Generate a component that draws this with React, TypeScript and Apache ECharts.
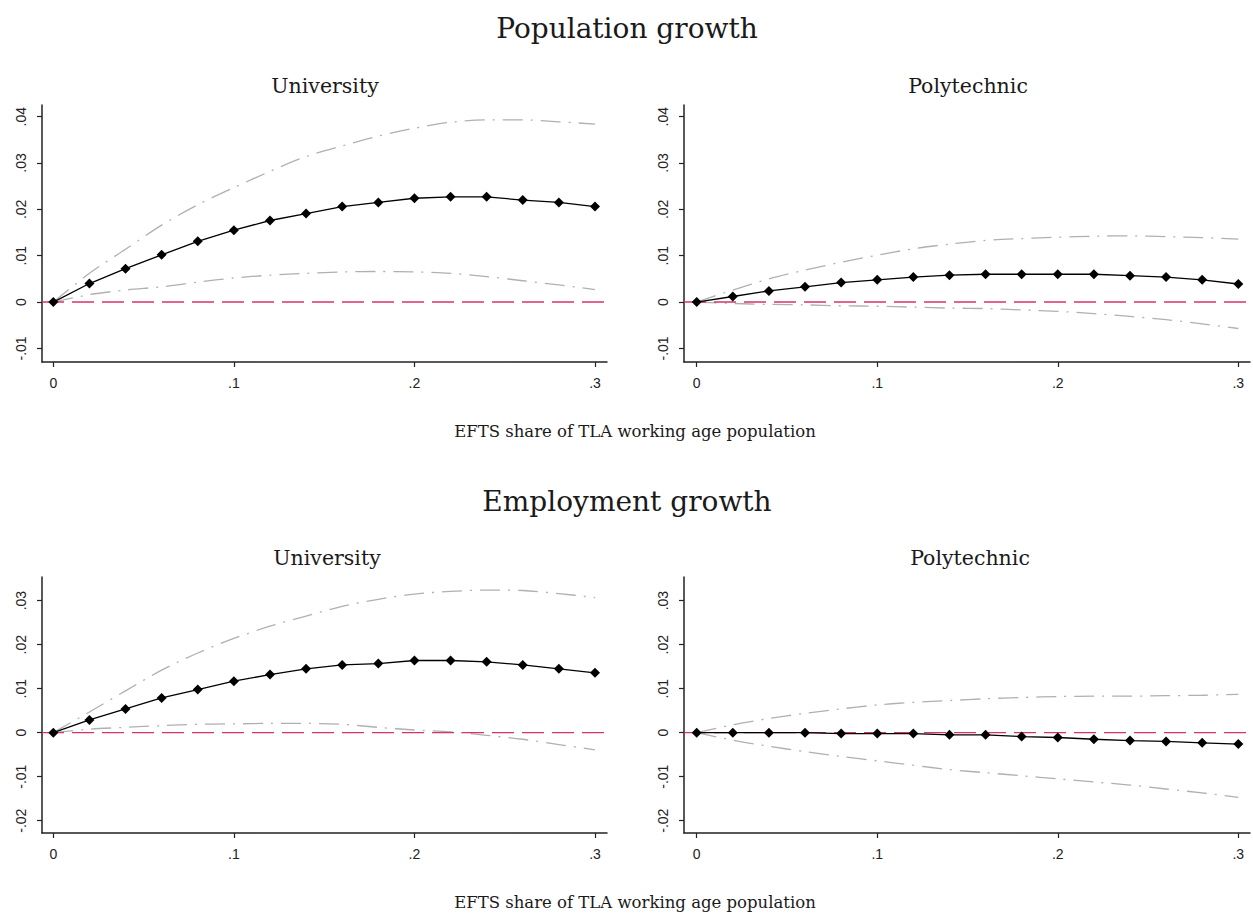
import React, { useEffect, useRef } from 'react';
import * as echarts from 'echarts';

// EFTS share of TLA working age population (x values)
const xs = [0, 0.02, 0.04, 0.06, 0.08, 0.1, 0.12, 0.14, 0.16, 0.18, 0.2, 0.22, 0.24, 0.26, 0.28, 0.3];
const xTickValues = [0, 0.1, 0.2, 0.3];
const yTicksTop = [-0.01, 0, 0.01, 0.02, 0.03, 0.04];
const yTicksBottom = [-0.02, -0.01, 0, 0.01, 0.02, 0.03];

// Population growth – University
const popUni = [0, 0.004, 0.0072, 0.0102, 0.0131, 0.0155, 0.0176, 0.0191, 0.0206, 0.0215, 0.0224, 0.0227, 0.0227, 0.022, 0.0215, 0.0206];
const popUniHi = [0, 0.0062, 0.0114, 0.0166, 0.021, 0.0247, 0.0282, 0.0314, 0.0337, 0.0358, 0.0375, 0.0388, 0.0393, 0.0393, 0.0389, 0.0384];
const popUniLo = [0, 0.0016, 0.0026, 0.0033, 0.0043, 0.0052, 0.0058, 0.0062, 0.0065, 0.0066, 0.0065, 0.0062, 0.0055, 0.0046, 0.0037, 0.0027];

// Population growth – Polytechnic
const popPoly = [0, 0.0012, 0.0024, 0.0033, 0.0042, 0.0048, 0.0054, 0.0058, 0.006, 0.006, 0.006, 0.006, 0.0057, 0.0054, 0.0048, 0.0039];
const popPolyHi = [0, 0.0026, 0.005, 0.0069, 0.0086, 0.0101, 0.0115, 0.0125, 0.0133, 0.0137, 0.014, 0.0142, 0.0143, 0.0141, 0.0139, 0.0136];
const popPolyLo = [0, -0.0003, -0.0005, -0.0006, -0.0008, -0.0009, -0.0011, -0.0013, -0.0014, -0.0017, -0.002, -0.0025, -0.0031, -0.0038, -0.0047, -0.0057];

// Employment growth – University
const empUni = [0, 0.0029, 0.0054, 0.0079, 0.0098, 0.0117, 0.0132, 0.0145, 0.0154, 0.0157, 0.0164, 0.0164, 0.0161, 0.0154, 0.0145, 0.0136];
const empUniHi = [0, 0.0047, 0.0095, 0.0142, 0.0181, 0.0214, 0.0242, 0.0265, 0.0287, 0.0303, 0.0315, 0.0321, 0.0324, 0.0323, 0.0316, 0.0307];
const empUniLo = [0, 0.0008, 0.0012, 0.0016, 0.0019, 0.002, 0.0021, 0.0021, 0.0019, 0.0012, 0.0006, 0.0002, -0.0006, -0.0015, -0.0027, -0.0039];

// Employment growth – Polytechnic
const empPoly = [0, 0, 0, 0, -0.0002, -0.0002, -0.0002, -0.0005, -0.0005, -0.0009, -0.0011, -0.0015, -0.0018, -0.002, -0.0023, -0.0026];
const empPolyHi = [0, 0.0018, 0.0032, 0.0044, 0.0054, 0.0063, 0.0069, 0.0073, 0.0077, 0.008, 0.0082, 0.0083, 0.0083, 0.0084, 0.0085, 0.0087];
const empPolyLo = [0, -0.0017, -0.0031, -0.0043, -0.0054, -0.0064, -0.0074, -0.0084, -0.0091, -0.0098, -0.0105, -0.0112, -0.0119, -0.0128, -0.0137, -0.0147];

const mainTitles = ['Population growth', 'Employment growth'];
const subTitles = ['University', 'Polytechnic'];
const xTitle = 'EFTS share of TLA working age population';

const SERIF = 'DejaVu Serif';
const SANS = 'Liberation Sans';

const fmt = (v: number) => {
  if (Math.abs(v) < 1e-9) return '0';
  const s = parseFloat(v.toFixed(3)).toString();
  return s.replace(/^(-?)0\./, '$1.');
};

const toPairs = (ys: number[]) => xs.map((x, i) => [x, ys[i]]);

export default function App() {
  const ref = useRef<HTMLDivElement>(null);

  useEffect(() => {
    if (!ref.current) return;
    const chart = echarts.init(ref.current, null, { renderer: 'svg' });

    const panels = [
      { grid: { left: 42, top: 105, width: 565, height: 257 }, xMin: -0.00626, xMax: 0.30665, yMin: -0.01293, yMax: 0.04252, yTicks: yTicksTop, est: popUni, hi: popUniHi, lo: popUniLo },
      { grid: { left: 684, top: 105, width: 566, height: 257 }, xMin: -0.00703, xMax: 0.30648, yMin: -0.01293, yMax: 0.04252, yTicks: yTicksTop, est: popPoly, hi: popPolyHi, lo: popPolyLo },
      { grid: { left: 42, top: 577, width: 565, height: 256 }, xMin: -0.00626, xMax: 0.30665, yMin: -0.0228, yMax: 0.03537, yTicks: yTicksBottom, est: empUni, hi: empUniHi, lo: empUniLo },
      { grid: { left: 684, top: 577, width: 566, height: 256 }, xMin: -0.00703, xMax: 0.30648, yMin: -0.0228, yMax: 0.03537, yTicks: yTicksBottom, est: empPoly, hi: empPolyHi, lo: empPolyLo },
    ];

    const axisLine = { show: true, onZero: false, lineStyle: { color: '#222', width: 1.5 } };
    const axisTickStyle = { lineStyle: { color: '#222', width: 1.2 }, length: 5 };

    const grids = panels.map((p) => ({ ...p.grid, containLabel: false }));
    const xAxes = panels.map((p, i) => ({
      type: 'value',
      gridIndex: i,
      min: p.xMin,
      max: p.xMax,
      axisLine,
      axisTick: { show: true, customValues: xTickValues, ...axisTickStyle },
      axisLabel: { show: false },
      splitLine: { show: false },
    }));
    const yAxes = panels.map((p, i) => ({
      type: 'value',
      gridIndex: i,
      min: p.yMin,
      max: p.yMax,
      axisLine,
      axisTick: { show: true, customValues: p.yTicks, ...axisTickStyle },
      axisLabel: { show: false },
      splitLine: { show: false },
    }));

    const ciStyle = { color: '#b0b0b0', width: 1.3, type: [20, 8, 2, 8] };
    const series: any[] = [];
    panels.forEach((p, i) => {
      series.push({
        type: 'line',
        xAxisIndex: i,
        yAxisIndex: i,
        data: toPairs(p.hi),
        symbol: 'none',
        smooth: 0.3,
        lineStyle: ciStyle,
        z: 2,
      });
      series.push({
        type: 'line',
        xAxisIndex: i,
        yAxisIndex: i,
        data: toPairs(p.lo),
        symbol: 'none',
        smooth: 0.3,
        lineStyle: ciStyle,
        z: 2,
      });
      series.push({
        type: 'line',
        xAxisIndex: i,
        yAxisIndex: i,
        data: [[p.xMin, 0], [p.xMax, 0]],
        symbol: 'none',
        lineStyle: { color: '#d6336c', width: 1.4, type: [22, 8] },
        z: 3,
      });
      series.push({
        type: 'line',
        xAxisIndex: i,
        yAxisIndex: i,
        data: toPairs(p.est),
        symbol: 'diamond',
        symbolSize: 10,
        itemStyle: { color: '#000' },
        lineStyle: { color: '#000', width: 1.3 },
        z: 4,
      });
    });

    const text = (t: string, x: number, y: number, size: number) => ({
      type: 'text',
      x,
      y,
      style: {
        text: t,
        fontFamily: SERIF,
        fontSize: size,
        fill: '#1a1a1a',
        textAlign: 'center',
        textVerticalAlign: 'middle',
      },
    });

    chart.setOption({
      animation: false,
      backgroundColor: '#fff',
      grid: grids,
      xAxis: xAxes,
      yAxis: yAxes,
      series,
    });

    // Tick labels placed through the axes' own scales
    const tickLabels: any[] = [];
    panels.forEach((p, i) => {
      const axisY = p.grid.top + p.grid.height;
      xTickValues.forEach((v) => {
        const px = chart.convertToPixel({ xAxisIndex: i } as any, v) as number;
        tickLabels.push({
          type: 'text',
          x: px,
          y: axisY + 21,
          style: { text: fmt(v), fontFamily: SANS, fontSize: 14, fill: '#222', textAlign: 'center', textVerticalAlign: 'middle' },
        });
      });
      p.yTicks.forEach((v) => {
        const py = chart.convertToPixel({ yAxisIndex: i } as any, v) as number;
        tickLabels.push({
          type: 'text',
          x: p.grid.left - 21,
          y: py,
          rotation: Math.PI / 2,
          style: { text: fmt(v), fontFamily: SANS, fontSize: 14, fill: '#222', textAlign: 'center', textVerticalAlign: 'middle' },
        });
      });
    });

    chart.setOption({
      graphic: [
        text(mainTitles[0], 627, 28, 28),
        text(subTitles[0], 325, 86, 20.5),
        text(subTitles[1], 968, 86, 20.5),
        text(xTitle, 635, 431, 16.5),
        text(mainTitles[1], 627, 501, 28),
        text(subTitles[0], 327, 558, 20.5),
        text(subTitles[1], 970, 558, 20.5),
        text(xTitle, 635, 902, 16.5),
        ...tickLabels,
      ],
    });

    return () => chart.dispose();
  }, []);

  return (
    <div
      ref={ref}
      style={{ position: 'absolute', left: 0, top: 0, width: 1253, height: 914 }}
    />
  );
}
